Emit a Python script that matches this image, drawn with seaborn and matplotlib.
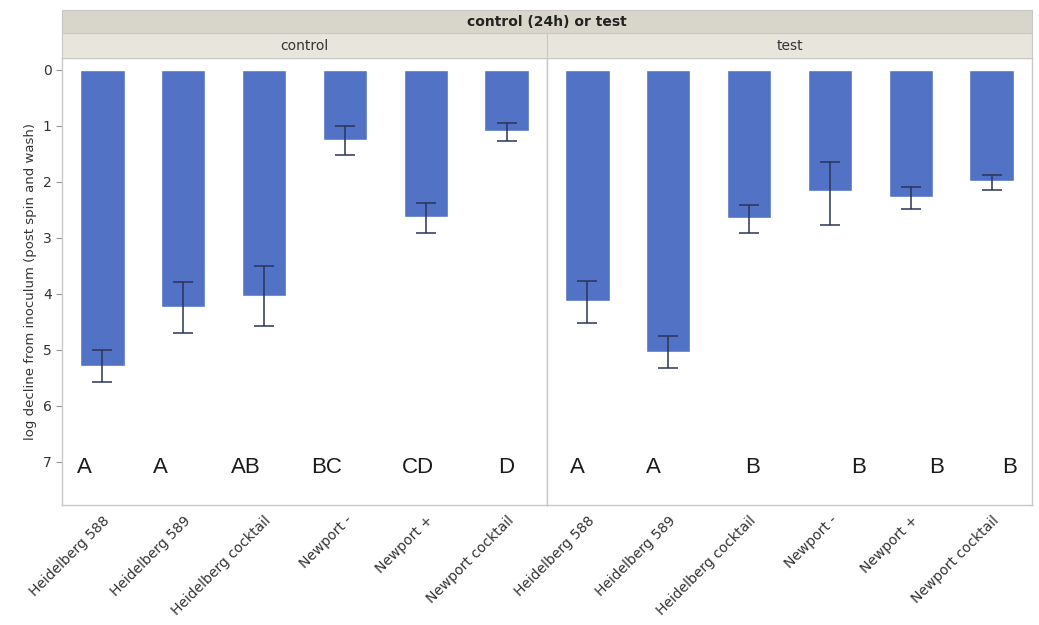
import numpy as np
import pandas as pd
import matplotlib
matplotlib.use("Agg")
import matplotlib.pyplot as plt
import seaborn as sns
from matplotlib.patches import Rectangle

# datos
strains = ['Heidelberg 588', 'Heidelberg 589', 'Heidelberg cocktail',
           'Newport -', 'Newport +', 'Newport cocktail']
groups = ['control', 'test']

control_mean = [5.28, 4.24, 4.04, 1.26, 2.63, 1.10]
control_low = [5.00, 3.79, 3.51, 1.01, 2.38, 0.95]
control_high = [5.57, 4.70, 4.58, 1.53, 2.92, 1.28]
control_letters = ['A', 'A', 'AB', 'BC', 'CD', 'D']

test_mean = [4.12, 5.03, 2.64, 2.17, 2.27, 1.99]
test_low = [3.78, 4.75, 2.41, 1.64, 2.10, 1.88]
test_high = [4.52, 5.33, 2.92, 2.77, 2.48, 2.14]
test_letters = ['A', 'A', 'B', 'B', 'B', 'B']

# desplazamiento horizontal de las letras (solo maquetacion)
letter_shift = {'control': [-0.22, -0.28, -0.23, -0.23, -0.10, -0.01],
                'test': [-0.12, -0.18, 0.04, 0.36, 0.32, 0.22]}

df = pd.DataFrame({
    'strain': strains * 2,
    'group': ['control'] * 6 + ['test'] * 6,
    'mean': control_mean + test_mean,
    'low': control_low + test_low,
    'high': control_high + test_high,
    'letter': control_letters + test_letters,
})

sns.set_style("white")
plt.rcParams['font.family'] = ['DejaVu Sans']

bar_color = '#5273c5'
err_color = '#2b3458'
frame_color = '#c8c8c8'

fig = plt.figure(figsize=(10.39, 6.25), dpi=100)
left, right, bottom, top = 62 / 1039, 1032 / 1039, 1 - 505 / 625, 1 - 58 / 625
w = (right - left) / 2

for k, g in enumerate(groups):
    ax = fig.add_axes([left + k * w, bottom, w, top - bottom])
    sub = df[df['group'] == g]
    sns.barplot(data=sub, x='strain', y='mean', order=strains, color=bar_color,
                width=0.55, saturation=1, errorbar=None, ax=ax)
    xs = np.arange(len(strains))
    m = sub['mean'].values
    ax.errorbar(xs, m, yerr=[m - sub['low'].values, sub['high'].values - m],
                fmt='none', ecolor=err_color, elinewidth=1.1, capsize=7, capthick=1.1)
    for i, lab in enumerate(sub['letter']):
        ax.text(i + letter_shift[g][i], 7.1, lab, ha='center', va='center',
                fontsize=16, color='#1a1a1a', family='Liberation Sans')
    ax.set_xlim(-0.5, 5.5)
    ax.set_ylim(7.77, -0.21)
    ax.set_xlabel('')
    ax.set_ylabel('')
    ax.set_xticks(xs)
    ax.set_xticklabels(strains, rotation=45, ha='right', rotation_mode='anchor',
                       fontsize=10, color='#333333')
    for s in ax.spines.values():
        s.set_color(frame_color)
        s.set_linewidth(1)
    if k == 0:
        ax.set_yticks(range(8))
        ax.tick_params(axis='y', labelsize=10, colors='#333333', length=4,
                       left=True, color='#999999')
        ax.set_ylabel('log decline from inoculum (post spin and wash)', fontsize=9.5,
                      color='#333333')
    else:
        ax.set_yticks(range(8))
        ax.set_yticklabels([])
        ax.tick_params(axis='y', length=0)
    ax.tick_params(axis='x', length=0, pad=6)

    # banda del panel
    y0, y1 = 1 - 58 / 625, 1 - 33 / 625
    fig.patches.append(Rectangle((left + k * w, y0), w, y1 - y0, transform=fig.transFigure,
                                 facecolor='#e7e5dc', edgecolor=frame_color, linewidth=0.8))
    fig.text(left + k * w + w / 2, (y0 + y1) / 2, g, ha='center', va='center',
             fontsize=10, color='#333333')

# banda exterior
y0, y1 = 1 - 33 / 625, 1 - 10 / 625
fig.patches.append(Rectangle((left, y0), right - left, y1 - y0, transform=fig.transFigure,
                             facecolor='#d8d6ca', edgecolor=frame_color, linewidth=0.8))
fig.text((left + right) / 2, (y0 + y1) / 2, 'control (24h) or test', ha='center',
         va='center', fontsize=10, fontweight='bold', color='#222222')

plt.savefig('out.png', dpi=100)
